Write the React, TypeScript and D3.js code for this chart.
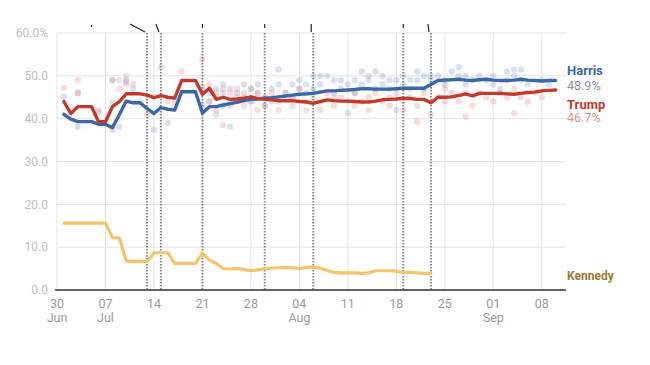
import React from 'react';
import * as d3 from 'd3';

// days counted from 30 Jun 2024
const harris = [
  41.0, 39.9, 39.3, 39.3, 39.3, 38.7, 38.7, 37.9, 40.9, 44.1,
  43.7, 43.7, 42.4, 41.2, 42.6, 42.2, 42.0, 46.3, 46.3, 46.3,
  41.3, 42.8, 42.8, 43.2, 43.5, 43.8, 44.2, 44.5, 44.6, 44.8,
  44.9, 45.1, 45.3, 45.5, 45.7, 45.8, 45.9, 46.2, 46.5, 46.5,
  46.6, 46.7, 46.8, 47.0, 47.0, 46.9, 46.9, 46.9, 47.0, 47.1,
  47.1, 47.1, 47.1, 48.0, 48.9, 49.0, 49.1, 49.2, 49.0, 48.9,
  49.1, 49.2, 49.0, 48.9, 48.9, 49.0, 49.2, 49.0, 48.9, 48.8,
  48.9, 48.9,
];
const trump = [
  44.0, 41.2, 42.8, 42.8, 42.8, 39.3, 39.3, 42.8, 44.0, 45.8,
  45.8, 45.8, 45.5, 44.9, 45.4, 45.0, 44.8, 48.9, 48.9, 48.9,
  45.7, 47.1, 44.5, 45.0, 44.5, 44.6, 44.8, 45.1, 44.7, 44.5,
  44.4, 44.2, 44.2, 44.2, 44.0, 43.9, 43.6, 44.0, 44.4, 44.2,
  44.1, 44.1, 44.0, 43.9, 43.9, 44.1, 44.4, 44.5, 44.6, 44.8,
  44.7, 44.5, 44.5, 43.7, 45.0, 45.0, 45.1, 45.4, 45.8, 45.3,
  45.9, 45.9, 45.9, 45.9, 45.8, 45.7, 45.9, 46.1, 46.2, 46.5,
  46.6, 46.7,
];
const kennedy = [
  15.6, 15.6, 15.6, 15.6, 15.6, 15.6, 15.6, 12.2, 12.2, 6.8,
  6.7, 6.7, 6.6, 8.7, 8.7, 8.7, 6.2, 6.2, 6.2, 6.2,
  8.6, 7.0, 6.2, 5.0, 4.9, 5.0, 4.8, 4.5, 4.7, 5.0,
  5.1, 5.2, 5.3, 5.2, 5.0, 5.3, 5.4, 5.1, 4.6, 4.1,
  4.0, 4.0, 4.0, 3.9, 4.0, 4.5, 4.5, 4.5, 4.4, 4.1,
  4.1, 4.0, 3.9, 3.9,
];

// individual polls: [day, value]
const harrisPolls: [number, number][] = [
  [1, 45.1], [3, 46], [3, 38.1], [6, 41.5], [8, 49], [8, 43.7], [8, 37.4], [9, 38.1],
  [10, 49], [10, 48.6], [11, 47], [14, 37.4], [16, 39], [17, 44], [21, 47.4], [21, 43],
  [22, 46], [22, 44], [23, 47], [23, 45], [23, 41], [24, 48], [24, 46], [24, 43],
  [25, 47], [25, 44], [25, 38.1], [26, 46], [27, 48], [27, 45], [28, 47], [28, 44],
  [29, 48], [29, 46], [30, 45], [30, 43], [31, 47], [31, 44], [32, 51.5], [32, 48],
  [33, 46], [34, 48], [34, 45], [35, 49], [35, 47], [36, 48], [36, 46], [37, 50],
  [37, 47], [38, 50], [38, 48], [39, 50], [40, 49], [40, 46], [41, 49], [41, 47],
  [42, 41.3], [42, 48], [43, 49], [43, 46], [44, 51], [44, 48], [45, 50], [45, 49],
  [46, 51], [46, 47], [47, 50], [47, 48], [48, 49], [48, 47], [49, 42], [49, 49],
  [50, 50], [50, 48], [51, 49], [51, 47], [52, 51], [52, 49], [53, 50], [53, 47],
  [54, 50], [54, 49], [55, 50], [56, 49], [56, 48], [57, 51], [58, 52], [58, 50],
  [59, 50], [59, 48], [60, 49], [61, 50], [62, 49], [63, 50], [63, 48], [64, 47],
  [65, 49], [65, 51], [66, 51.5], [66, 50], [67, 51.5], [67, 49], [68, 48], [70, 49],
  [71, 48],
];
const trumpPolls: [number, number][] = [
  [1, 47.2], [3, 49], [3, 46], [6, 42], [8, 49], [9, 49], [9, 47], [10, 50],
  [10, 48], [11, 48.1], [12, 44], [13, 41], [15, 52.1], [16, 44], [18, 51], [21, 53.8],
  [21, 46], [22, 48], [22, 44], [23, 46], [23, 42], [24, 47], [24, 38.5], [25, 46],
  [25, 43], [26, 47], [26, 45], [27, 46], [27, 43], [28, 47], [28, 44], [29, 46],
  [29, 42], [30, 45], [30, 43], [31, 46], [32, 44], [32, 42], [33, 46], [34, 45],
  [34, 43], [35, 47], [36, 44], [36, 42], [37, 45], [38, 44], [38, 42], [39, 46],
  [40, 45], [40, 43], [41, 45], [42, 44], [43, 46], [43, 43], [44, 44], [45, 45],
  [45, 42], [46, 46], [47, 44], [48, 45], [48, 43], [49, 46], [50, 44], [50, 42],
  [51, 45], [52, 39.3], [52, 43], [53, 46], [54, 41], [55, 45], [56, 47], [56, 44],
  [57, 46], [58, 44], [59, 40.5], [59, 46], [60, 43], [61, 46], [62, 45], [63, 44],
  [64, 46], [65, 45], [66, 41.3], [66, 47], [67, 45], [68, 44], [69, 46], [70, 45],
];

const yTicks = [0, 10, 20, 30, 40, 50, 60];
const xTickDays = [0, 7, 14, 21, 28, 35, 42, 49, 56, 63, 70];
const xTickMonths = ['Jun', 'Jul', '', '', '', 'Aug', '', '', '', 'Sep', ''];
// campaign events (days from 30 Jun) with the angle of their leader lines
const eventDays = [13, 15, 21, 30, 37, 50, 54];
const leaderDx = [-17, -5, 0, 0, -2, 0, -3];

const start = new Date(2024, 5, 30);
const dayDate = (d: number) => d3.timeDay.offset(start, d);

export default function App() {
  const width = 650;
  const height = 365;
  const margin = { top: 33, right: 84, bottom: 75, left: 57 };

  const x = d3.scaleTime()
    .domain([start, new Date(2024, 8, 11, 12)])
    .range([margin.left, width - margin.right]);
  const y = d3.scaleLinear()
    .domain([0, 60])
    .range([height - margin.bottom, margin.top]);

  const line = d3.line<number>()
    .x((_, i) => x(dayDate(i + 1)))
    .y(d => y(d));

  const series = [
    { name: 'Harris', values: harris, color: '#3b67a6', polls: harrisPolls, dot: '#7f9cc9' },
    { name: 'Trump', values: trump, color: '#c23a2c', polls: trumpPolls, dot: '#e09088' },
  ];

  const x0 = margin.left;
  const x1 = width - margin.right;
  const font = 'Roboto, "Noto Sans", sans-serif';

  return (
    <svg width={width} height={height} style={{ position: 'fixed', left: 0, top: 0, background: '#fff' }}
      fontFamily={font}>
      {/* grid */}
      {yTicks.map(t => (
        <line key={'gy' + t} x1={x0} x2={x1} y1={y(t)} y2={y(t)} stroke="#e3e3e3" strokeWidth={1} />
      ))}
      {xTickDays.map(d => (
        <line key={'gx' + d} x1={x(dayDate(d))} x2={x(dayDate(d))} y1={y(60)} y2={y(0)}
          stroke="#e3e3e3" strokeWidth={1} />
      ))}

      {/* poll dots */}
      {series.map(s => s.polls.map(([d, v], i) => (
        <circle key={s.name + i} cx={x(dayDate(d))} cy={y(v)} r={3.2} fill={s.dot} fillOpacity={0.3} />
      )))}

      {/* event lines */}
      {eventDays.map((d, i) => (
        <g key={'ev' + d}>
          <line x1={x(dayDate(d))} x2={x(dayDate(d))} y1={y(60)} y2={y(0)}
            stroke="#8a8a8a" strokeWidth={2} strokeDasharray="1.4,1.6" />
          <line x1={x(dayDate(d)) + leaderDx[i]} x2={x(dayDate(d)) - (leaderDx[i] ? 2 : 0)} y1={24} y2={leaderDx[i] ? 32 : 28}
            stroke="#222" strokeWidth={1.2} />
        </g>
      ))}
      <line x1={x(dayDate(5.7))} x2={x(dayDate(5.7))} y1={25} y2={27} stroke="#222" strokeWidth={1.2} />

      {/* lines */}
      <path d={line(kennedy) || ''} fill="none" stroke="#f5c36b" strokeWidth={3.2}
        strokeLinejoin="round" strokeLinecap="round" />
      {series.map(s => (
        <path key={'l' + s.name} d={line(s.values) || ''} fill="none" stroke={s.color} strokeWidth={3.4}
          strokeLinejoin="round" strokeLinecap="round" />
      ))}

      {/* axis */}
      <line x1={x0 - 2} x2={x1} y1={y(0)} y2={y(0)} stroke="#333" strokeWidth={1.5} />
      {yTicks.map(t => (
        <text key={'ty' + t} x={48} y={y(t)} dy="0.35em" textAnchor="end" fontSize={12} fill="#bdbdbd">
          {t.toFixed(1) + (t === 60 ? '%' : '')}
        </text>
      ))}
      {xTickDays.map((d, i) => (
        <text key={'tx' + d} x={x(dayDate(d))} y={y(0) + 18} textAnchor="middle" fontSize={12.5} fill="#9a9a9a">
          {d3.timeFormat('%d')(dayDate(d))}
          {xTickMonths[i] && <tspan x={x(dayDate(d))} dy={14}>{xTickMonths[i]}</tspan>}
        </text>
      ))}

      {/* end labels */}
      <text x={x1 + 1} y={75} fontSize={13} fontWeight="bold" fill="#3b67a6">Harris</text>
      <text x={x1 + 1} y={89.5} fontSize={12.5} fill="#8193b0">{harris[harris.length - 1].toFixed(1)}%</text>
      <text x={x1 + 1} y={108.5} fontSize={13} fontWeight="bold" fill="#c23a2c">Trump</text>
      <text x={x1 + 1} y={122} fontSize={12.5} fill="#d8978d">{trump[trump.length - 1].toFixed(1)}%</text>
      <text x={x1 + 1} y={280} fontSize={12} fontWeight="bold" fill="#9b7a30">Kennedy</text>
    </svg>
  );
}
